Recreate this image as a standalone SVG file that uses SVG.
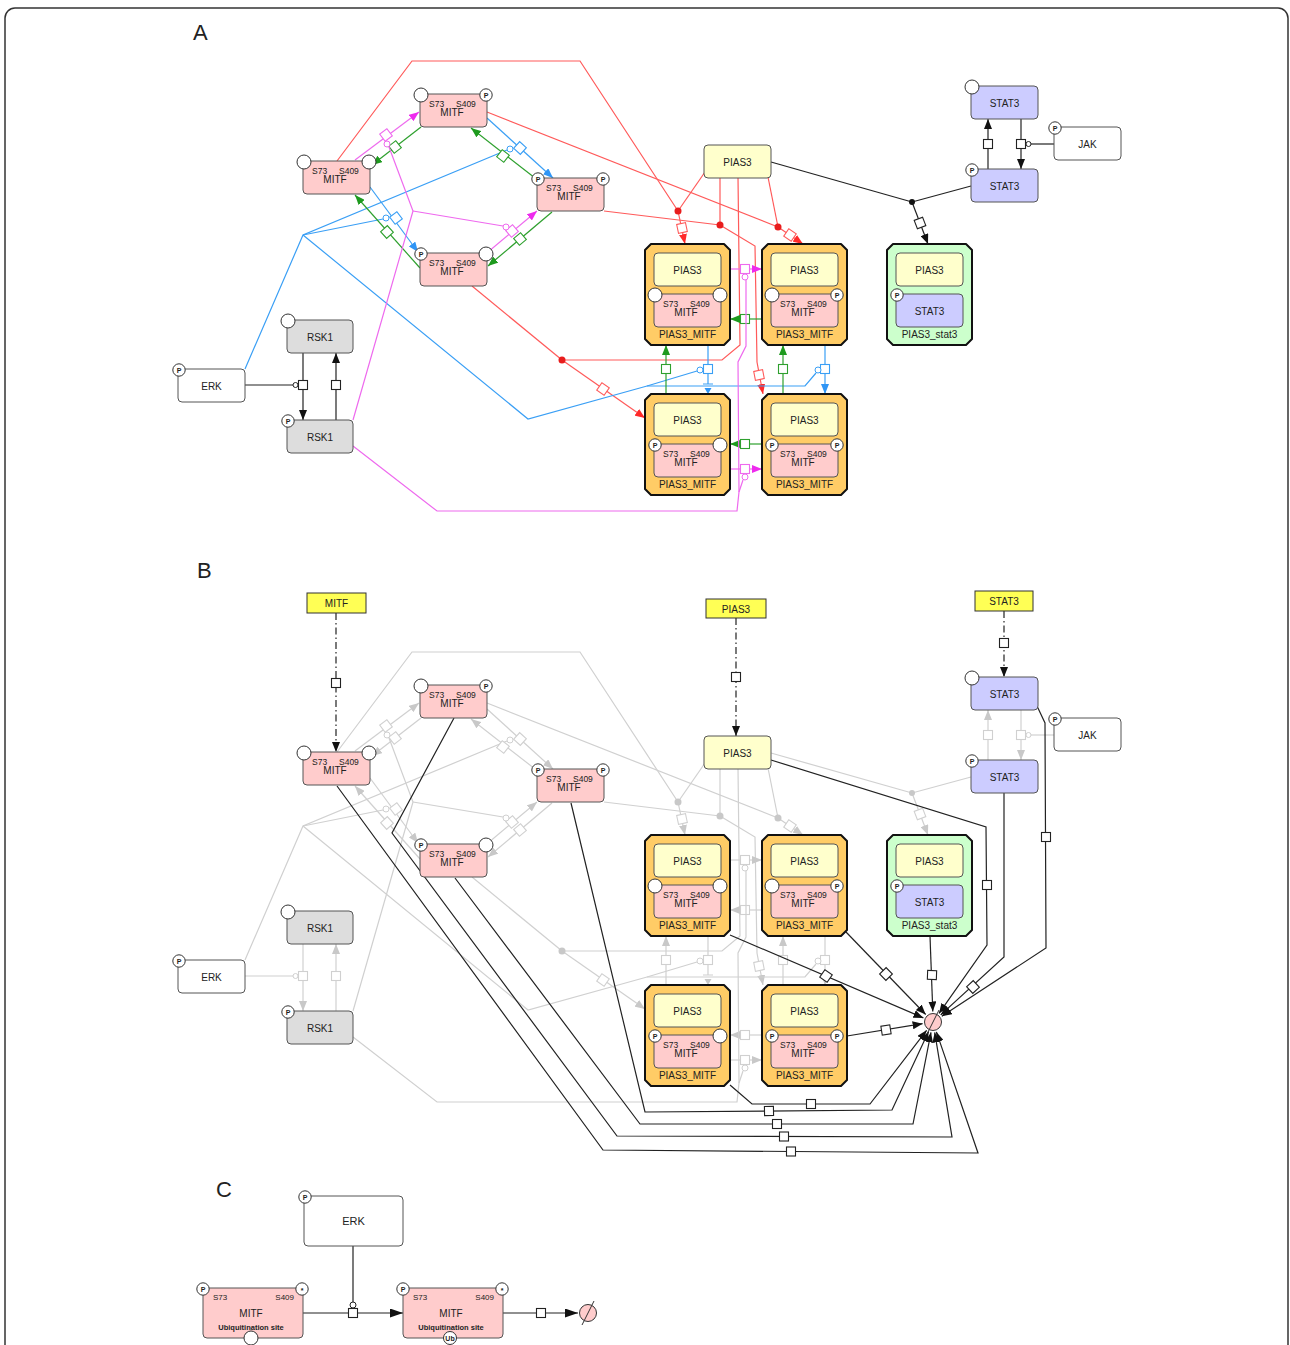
<svg xmlns="http://www.w3.org/2000/svg" xmlns:xlink="http://www.w3.org/1999/xlink" width="1290" height="1345" viewBox="0 0 1290 1345">
<style>
.t{font-family:"Liberation Sans",Arial,Helvetica,sans-serif;fill:#222}
.nm{font-size:10px;text-anchor:middle}
.st{font-size:8.5px}
.pt{font-size:7px;text-anchor:middle;font-weight:bold}
.big{font-size:22px}
.ln{fill:none;stroke-width:1.2}
.r{stroke:#ff5a5a}.b{stroke:#3a9ff5}.g{stroke:#2ea02e}.m{stroke:#ee6aee}.k{stroke:#222}.x{stroke:#d0d0d0}
.r.arr{marker-end:url(#aR)}.b.arr{marker-end:url(#aB)}.g.arr{marker-end:url(#aG)}.m.arr{marker-end:url(#aM)}.k.arr{marker-end:url(#aK)}.x.arr{marker-end:url(#aX)}
.dd{stroke-dasharray:7 3 1.5 3}
.sq{fill:#fff;stroke-width:1.1}
.cat{fill:#fff;stroke-width:1}
.dr{fill:#e81c1c}.dk{fill:#111}.dx{fill:#c8c8c8}
.mitf{fill:#ffcccc;stroke:#555}
.pias{fill:#ffffcc;stroke:#555}
.stat{fill:#ccccff;stroke:#555}
.rsk{fill:#dddddd;stroke:#555}
.plain{fill:#fff;stroke:#555}
.src{fill:#ffff55;stroke:#333}
.cxo{fill:#ffcc66;stroke:#111;stroke-width:2;stroke-linejoin:round}
.cxg{fill:#ccffcc;stroke:#111;stroke-width:2;stroke-linejoin:round}
.sv{fill:#fff;stroke:#333}
</style>
<defs>
<marker id="aR" viewBox="0 0 10 8" refX="10" refY="4" markerWidth="10" markerHeight="8" markerUnits="userSpaceOnUse" orient="auto"><path d="M0,0 L10,4 L0,8 Z" fill="#ff2a2a"/></marker>
<marker id="aB" viewBox="0 0 10 8" refX="10" refY="4" markerWidth="10" markerHeight="8" markerUnits="userSpaceOnUse" orient="auto"><path d="M0,0 L10,4 L0,8 Z" fill="#2f95f5"/></marker>
<marker id="aG" viewBox="0 0 10 8" refX="10" refY="4" markerWidth="10" markerHeight="8" markerUnits="userSpaceOnUse" orient="auto"><path d="M0,0 L10,4 L0,8 Z" fill="#1e9a1e"/></marker>
<marker id="aM" viewBox="0 0 10 8" refX="10" refY="4" markerWidth="10" markerHeight="8" markerUnits="userSpaceOnUse" orient="auto"><path d="M0,0 L10,4 L0,8 Z" fill="#ee2aee"/></marker>
<marker id="aK" viewBox="0 0 10 8" refX="10" refY="4" markerWidth="10" markerHeight="8" markerUnits="userSpaceOnUse" orient="auto"><path d="M0,0 L10,4 L0,8 Z" fill="#111"/></marker>
<marker id="aX" viewBox="0 0 10 8" refX="10" refY="4" markerWidth="10" markerHeight="8" markerUnits="userSpaceOnUse" orient="auto"><path d="M0,0 L10,4 L0,8 Z" fill="#c8c8c8"/></marker>
<marker id="aK2" viewBox="0 0 13 9" refX="13" refY="4.5" markerWidth="13" markerHeight="9" markerUnits="userSpaceOnUse" orient="auto"><path d="M0,0 L13,4.5 L0,9 Z" fill="#111"/></marker>
<rect id="q" class="sq" x="-4.5" y="-4.5" width="9" height="9"/>
<g id="mitf"><rect class="mitf" width="67" height="33" rx="4"/><text class="t st" x="9" y="12.5">S73</text><text class="t st" x="36" y="12.5">S409</text><text class="t nm" x="32" y="21.5">MITF</text></g>
<g id="pias"><rect class="pias" width="67" height="33" rx="4"/><text class="t nm" x="33.5" y="20.5">PIAS3</text></g>
<g id="stat"><rect class="stat" width="67" height="33" rx="4"/><text class="t nm" x="33.5" y="20.5">STAT3</text></g>
<g id="svP"><circle class="sv" r="6.2"/><text class="t pt" y="2.5">P</text></g>
<circle id="svE" class="sv" r="7"/>
<path id="cx" d="M6,0 H79 L85,6 V95 L79,101 H6 L0,95 V6 Z"/>
<g id="sink"><circle r="8.5" fill="#ffcccc" stroke="#333"/><line x1="-6" y1="12" x2="6" y2="-12" stroke="#333" stroke-width="1"/></g>
</defs>

<rect x="5" y="8" width="1283" height="1370" rx="10" fill="#fff" stroke="#333" stroke-width="1.5"/>

<g id="panel-labels">
<text class="t big" x="193" y="40">A</text>
<text class="t big" x="197" y="578">B</text>
<text class="t big" x="216" y="1197">C</text>
</g>

<!-- Panel A reactions, coloured by kind -->
<g id="edges-a">
<!-- complex formation with PIAS3 -->
<path class="ln r" d="M337,161 L412,61 L580,61 L678,211"/>
<path class="ln r" d="M705,172 L678,211"/>
<path class="ln r arr" d="M678,211 L685,244"/>
<use href="#q" class="r" transform="translate(682,228) rotate(-12)"/>
<circle class="dr" cx="678" cy="211" r="3.5"/>
<path class="ln r" d="M487,112 L778,227"/>
<path class="ln r" d="M768,177 L778,227"/>
<path class="ln r arr" d="M778,227 L803,244"/>
<use href="#q" class="r" transform="translate(790,235) rotate(34)"/>
<circle class="dr" cx="778" cy="227" r="3.5"/>
<path class="ln r" d="M604,211 L720,225"/>
<path class="ln r" d="M720,177 L720,225"/>
<path class="ln r arr" d="M720,225 L755,246 L757,362 L763,394"/>
<use href="#q" class="r" transform="translate(759,375) rotate(-11)"/>
<circle class="dr" cx="720" cy="225" r="3.5"/>
<path class="ln r" d="M472,286 L562,360"/>
<path class="ln r" d="M738,177 L740,345 L722,360 L562,360"/>
<path class="ln r arr" d="M562,360 L645,418"/>
<use href="#q" class="r" transform="translate(603,389) rotate(35)"/>
<circle class="dr" cx="562" cy="360" r="3.5"/>
<!-- ERK driven steps -->
<path class="ln b" d="M245,369 L303,235 L507,150"/>
<path class="ln b" d="M303,235 L383,219"/>
<path class="ln b" d="M303,235 L528,419 L647,386 L805,386 L816,373"/>
<path class="ln b" d="M647,386 L697,371"/>
<path class="ln b arr" d="M487,118 L553,178"/>
<use href="#q" class="b" transform="translate(520,148) rotate(42)"/>
<path class="ln b arr" d="M370,187 L418,252"/>
<use href="#q" class="b" transform="translate(396,218) rotate(53)"/>
<path class="ln b" d="M708,345 V384 M703,384 H713"/>
<polygon points="704.5,388 711.5,388 708,394" fill="#2f95f5"/>
<use href="#q" class="b" transform="translate(708,369)"/>
<path class="ln b arr" d="M825,345 V394"/>
<use href="#q" class="b" transform="translate(825,369)"/>
<circle class="cat b" cx="510" cy="149" r="3"/>
<circle class="cat b" cx="386" cy="218" r="3"/>
<circle class="cat b" cx="818" cy="370" r="3"/>
<circle class="cat b" cx="700" cy="370" r="3"/>
<!-- reverse steps -->
<path class="ln g arr" d="M421,127 L372,165"/>
<use href="#q" class="g" transform="translate(395,147) rotate(-38)"/>
<path class="ln g arr" d="M420,268 L355,195"/>
<use href="#q" class="g" transform="translate(387,232) rotate(48)"/>
<path class="ln g arr" d="M535,178 L471,128"/>
<use href="#q" class="g" transform="translate(503,156) rotate(38)"/>
<path class="ln g arr" d="M552,212 L488,266"/>
<use href="#q" class="g" transform="translate(520,239) rotate(-40)"/>
<path class="ln g arr" d="M762,319 L730,319"/>
<use href="#q" class="g" transform="translate(745,319)"/>
<path class="ln g arr" d="M762,444 L730,444"/>
<use href="#q" class="g" transform="translate(745,444)"/>
<path class="ln g arr" d="M666,394 L666,345"/>
<use href="#q" class="g" transform="translate(666,369)"/>
<path class="ln g arr" d="M783,394 L783,345"/>
<use href="#q" class="g" transform="translate(783,369)"/>
<!-- RSK1 driven steps -->
<path class="ln m arr" d="M355,160 L419,112"/>
<use href="#q" class="m" transform="translate(386,135) rotate(-37)"/>
<path class="ln m arr" d="M488,252 L537,211"/>
<use href="#q" class="m" transform="translate(512,231) rotate(-40)"/>
<path class="ln m arr" d="M730,269 L762,269"/>
<use href="#q" class="m" transform="translate(745,269)"/>
<path class="ln m arr" d="M730,469 L762,469"/>
<use href="#q" class="m" transform="translate(745,469)"/>
<path class="ln m" d="M353,420 L413,211 L389,147"/>
<path class="ln m" d="M413,211 L503,226"/>
<path class="ln m" d="M353,446 L437,511 L737,511 L739,492 L743,480"/>
<path class="ln m" d="M739,492 L738,362 L746,346 L746,280"/>
<circle class="cat m" cx="387" cy="144" r="3"/>
<circle class="cat m" cx="506" cy="227" r="3"/>
<circle class="cat m" cx="745" cy="277" r="3"/>
<circle class="cat m" cx="745" cy="477" r="3"/>
<!-- kinase cycles and STAT3 complex -->
<path class="ln k" d="M771,162 L912,202"/>
<path class="ln k" d="M971,186 L912,202"/>
<path class="ln k arr" d="M912,202 L928,244"/>
<use href="#q" class="k" transform="translate(920,223) rotate(69)"/>
<circle class="dk" cx="912" cy="202" r="3"/>
<path class="ln k arr" d="M303,353 V420"/>
<use href="#q" class="k" transform="translate(303,385)"/>
<path class="ln k" d="M245,385 H293"/>
<circle class="cat k" cx="295.5" cy="385" r="2.5"/>
<path class="ln k arr" d="M336,420 V353"/>
<use href="#q" class="k" transform="translate(336,385)"/>
<path class="ln k arr" d="M1021,119 V169"/>
<use href="#q" class="k" transform="translate(1021,144)"/>
<path class="ln k" d="M1054,144 H1031"/>
<circle class="cat k" cx="1028.5" cy="144" r="2.5"/>
<path class="ln k arr" d="M988,169 V119"/>
<use href="#q" class="k" transform="translate(988,144)"/>
</g>

<!-- Panel B: the same network, drawn as faded context -->
<g id="edges-b-context">
<path class="ln x" d="M337,752 L412,652 L580,652 L678,802"/>
<path class="ln x" d="M705,763 L678,802"/>
<path class="ln x arr" d="M678,802 L685,835"/>
<use href="#q" class="x" transform="translate(682,819) rotate(-12)"/>
<circle class="dx" cx="678" cy="802" r="3.5"/>
<path class="ln x" d="M487,703 L778,818"/>
<path class="ln x" d="M768,768 L778,818"/>
<path class="ln x arr" d="M778,818 L803,835"/>
<use href="#q" class="x" transform="translate(790,826) rotate(34)"/>
<circle class="dx" cx="778" cy="818" r="3.5"/>
<path class="ln x" d="M604,802 L720,816"/>
<path class="ln x" d="M720,768 L720,816"/>
<path class="ln x arr" d="M720,816 L755,837 L757,953 L763,985"/>
<use href="#q" class="x" transform="translate(759,966) rotate(-11)"/>
<circle class="dx" cx="720" cy="816" r="3.5"/>
<path class="ln x" d="M472,877 L562,951"/>
<path class="ln x" d="M738,768 L740,936 L722,951 L562,951"/>
<path class="ln x arr" d="M562,951 L645,1009"/>
<use href="#q" class="x" transform="translate(603,980) rotate(35)"/>
<circle class="dx" cx="562" cy="951" r="3.5"/>
<path class="ln x" d="M245,960 L303,826 L507,741"/>
<path class="ln x" d="M303,826 L383,810"/>
<path class="ln x" d="M303,826 L528,1010 L647,977 L805,977 L816,964"/>
<path class="ln x" d="M647,977 L697,962"/>
<path class="ln x arr" d="M487,709 L553,769"/>
<use href="#q" class="x" transform="translate(520,739) rotate(42)"/>
<path class="ln x arr" d="M370,778 L418,843"/>
<use href="#q" class="x" transform="translate(396,809) rotate(53)"/>
<path class="ln x" d="M708,936 V975 M703,975 H713"/>
<polygon points="704.5,979 711.5,979 708,985" fill="#c8c8c8"/>
<use href="#q" class="x" transform="translate(708,960)"/>
<path class="ln x arr" d="M825,936 V985"/>
<use href="#q" class="x" transform="translate(825,960)"/>
<circle class="cat x" cx="510" cy="740" r="3"/>
<circle class="cat x" cx="386" cy="809" r="3"/>
<circle class="cat x" cx="818" cy="961" r="3"/>
<circle class="cat x" cx="700" cy="961" r="3"/>
<path class="ln x arr" d="M421,718 L372,756"/>
<use href="#q" class="x" transform="translate(395,738) rotate(-38)"/>
<path class="ln x arr" d="M420,859 L355,786"/>
<use href="#q" class="x" transform="translate(387,823) rotate(48)"/>
<path class="ln x arr" d="M535,769 L471,719"/>
<use href="#q" class="x" transform="translate(503,747) rotate(38)"/>
<path class="ln x arr" d="M552,803 L488,857"/>
<use href="#q" class="x" transform="translate(520,830) rotate(-40)"/>
<path class="ln x arr" d="M762,910 L730,910"/>
<use href="#q" class="x" transform="translate(745,910)"/>
<path class="ln x arr" d="M762,1035 L730,1035"/>
<use href="#q" class="x" transform="translate(745,1035)"/>
<path class="ln x arr" d="M666,985 L666,936"/>
<use href="#q" class="x" transform="translate(666,960)"/>
<path class="ln x arr" d="M783,985 L783,936"/>
<use href="#q" class="x" transform="translate(783,960)"/>
<path class="ln x arr" d="M355,751 L419,703"/>
<use href="#q" class="x" transform="translate(386,726) rotate(-37)"/>
<path class="ln x arr" d="M488,843 L537,802"/>
<use href="#q" class="x" transform="translate(512,822) rotate(-40)"/>
<path class="ln x arr" d="M730,860 L762,860"/>
<use href="#q" class="x" transform="translate(745,860)"/>
<path class="ln x arr" d="M730,1060 L762,1060"/>
<use href="#q" class="x" transform="translate(745,1060)"/>
<path class="ln x" d="M353,1011 L413,802 L389,738"/>
<path class="ln x" d="M413,802 L503,817"/>
<path class="ln x" d="M353,1037 L437,1102 L737,1102 L739,1083 L743,1071"/>
<path class="ln x" d="M739,1083 L738,953 L746,937 L746,871"/>
<circle class="cat x" cx="387" cy="735" r="3"/>
<circle class="cat x" cx="506" cy="818" r="3"/>
<circle class="cat x" cx="745" cy="868" r="3"/>
<circle class="cat x" cx="745" cy="1068" r="3"/>
<path class="ln x" d="M771,753 L912,793"/>
<path class="ln x" d="M971,777 L912,793"/>
<path class="ln x arr" d="M912,793 L928,835"/>
<use href="#q" class="x" transform="translate(920,814) rotate(69)"/>
<circle class="dx" cx="912" cy="793" r="3"/>
<path class="ln x arr" d="M303,944 V1011"/>
<use href="#q" class="x" transform="translate(303,976)"/>
<path class="ln x" d="M245,976 H293"/>
<circle class="cat x" cx="295.5" cy="976" r="2.5"/>
<path class="ln x arr" d="M336,1011 V944"/>
<use href="#q" class="x" transform="translate(336,976)"/>
<path class="ln x arr" d="M1021,710 V760"/>
<use href="#q" class="x" transform="translate(1021,735)"/>
<path class="ln x" d="M1054,735 H1031"/>
<circle class="cat x" cx="1028.5" cy="735" r="2.5"/>
<path class="ln x arr" d="M988,760 V710"/>
<use href="#q" class="x" transform="translate(988,735)"/>
</g>

<!-- Panel B: synthesis and degradation -->
<g id="edges-b">
<path class="ln k dd arr" d="M336,613 V752"/>
<use href="#q" class="k" transform="translate(336,683)"/>
<path class="ln k dd arr" d="M736,618 V736"/>
<use href="#q" class="k" transform="translate(736,677)"/>
<path class="ln k dd arr" d="M1004,611 V677"/>
<use href="#q" class="k" transform="translate(1004,643)"/>
<path class="ln k arr" d="M771,760 L986,827 L987,945 L939,1013.4"/>
<use href="#q" class="k" transform="translate(987,885)"/>
<path class="ln k arr" d="M1004,793 L1004,957 L940.7,1014.9"/>
<use href="#q" class="k" transform="translate(973,987) rotate(137)"/>
<path class="ln k arr" d="M1037,706 L1045,723 L1046,948 L941.8,1016.2"/>
<use href="#q" class="k" transform="translate(1046,837)"/>
<path class="ln k arr" d="M930,936 L932.8,1011.5"/>
<use href="#q" class="k" transform="translate(932,975) rotate(2)"/>
<path class="ln k arr" d="M846,932 L925.7,1014.5"/>
<use href="#q" class="k" transform="translate(886,974) rotate(46)"/>
<path class="ln k arr" d="M730,935 L923.4,1017.9"/>
<use href="#q" class="k" transform="translate(826,976) rotate(35)"/>
<path class="ln k arr" d="M847,1036 L922.6,1023.7"/>
<use href="#q" class="k" transform="translate(886,1030) rotate(-9)"/>
<path class="ln k arr" d="M730,1085 L752,1104 L870,1104 L926.6,1030.3"/>
<use href="#q" class="k" transform="translate(811,1104)"/>
<path class="ln k arr" d="M571,803 L645,1112 L892,1110 L928.6,1031.5"/>
<use href="#q" class="k" transform="translate(769,1111) rotate(-1)"/>
<path class="ln k arr" d="M455,878 L640,1124 L913,1124 L931,1032.3"/>
<use href="#q" class="k" transform="translate(777,1124)"/>
<path class="ln k arr" d="M454,718 L392,833 L617,1136 L952,1137 L934.7,1032.4"/>
<use href="#q" class="k" transform="translate(784,1136.5)"/>
<path class="ln k arr" d="M337,786 L603,1150 L978,1153 L936.4,1031.9"/>
<use href="#q" class="k" transform="translate(791,1151.5)"/>
</g>

<!-- Panel C reactions -->
<g id="edges-c">
<path class="ln k" d="M303,1313 L403,1313" marker-end="url(#aK2)"/>
<use href="#q" class="k" transform="translate(353,1313)"/>
<path class="ln k" d="M353,1246 V1302"/>
<circle class="cat k" cx="353" cy="1305" r="3"/>
<path class="ln k" d="M503,1313 L578,1313" marker-end="url(#aK2)"/>
<use href="#q" class="k" transform="translate(541,1313)"/>
</g>

<!-- Panel A species -->
<g id="a-mitf-top" transform="translate(420,94)"><use href="#mitf"/><use href="#svE" x="1" y="1"/><use href="#svP" x="66" y="1"/></g>
<g id="a-mitf-left" transform="translate(303,161)"><use href="#mitf"/><use href="#svE" x="1" y="1"/><use href="#svE" x="66" y="1"/></g>
<g id="a-mitf-right" transform="translate(537,178)"><use href="#mitf"/><use href="#svP" x="1" y="1"/><use href="#svP" x="66" y="1"/></g>
<g id="a-mitf-bottom" transform="translate(420,253)"><use href="#mitf"/><use href="#svP" x="1" y="1"/><use href="#svE" x="66" y="1"/></g>
<g id="a-pias3" transform="translate(704,145)"><use href="#pias"/></g>
<g id="a-stat3" transform="translate(971,86)"><use href="#stat"/><use href="#svE" x="1" y="1"/></g>
<g id="a-stat3-p" transform="translate(971,169)"><use href="#stat"/><use href="#svP" x="1" y="1"/></g>
<g id="a-jak" transform="translate(1054,127)"><rect class="plain" width="67" height="33" rx="4"/><text class="t nm" x="33.5" y="20.5">JAK</text><use href="#svP" x="1" y="1"/></g>
<g id="a-rsk1" transform="translate(287,320)"><rect class="rsk" width="66" height="33" rx="4"/><text class="t nm" x="33" y="20.5">RSK1</text><use href="#svE" x="1" y="1"/></g>
<g id="a-rsk1-p" transform="translate(287,420)"><rect class="rsk" width="66" height="33" rx="4"/><text class="t nm" x="33" y="20.5">RSK1</text><use href="#svP" x="1" y="1"/></g>
<g id="a-erk" transform="translate(178,369)"><rect class="plain" width="67" height="33" rx="4"/><text class="t nm" x="33.5" y="20.5">ERK</text><use href="#svP" x="1" y="1"/></g>
<g id="a-pias3-mitf-1" transform="translate(645,244)"><use href="#cx" class="cxo"/><use href="#pias" x="9" y="9"/><use href="#mitf" x="9" y="50"/><use href="#svE" x="10" y="51"/><use href="#svE" x="75" y="51"/><text class="t nm" x="42.5" y="94">PIAS3_MITF</text></g>
<g id="a-pias3-mitf-2" transform="translate(762,244)"><use href="#cx" class="cxo"/><use href="#pias" x="9" y="9"/><use href="#mitf" x="9" y="50"/><use href="#svE" x="10" y="51"/><use href="#svP" x="75" y="51"/><text class="t nm" x="42.5" y="94">PIAS3_MITF</text></g>
<g id="a-pias3-mitf-3" transform="translate(645,394)"><use href="#cx" class="cxo"/><use href="#pias" x="9" y="9"/><use href="#mitf" x="9" y="50"/><use href="#svP" x="10" y="51"/><use href="#svE" x="75" y="51"/><text class="t nm" x="42.5" y="94">PIAS3_MITF</text></g>
<g id="a-pias3-mitf-4" transform="translate(762,394)"><use href="#cx" class="cxo"/><use href="#pias" x="9" y="9"/><use href="#mitf" x="9" y="50"/><use href="#svP" x="10" y="51"/><use href="#svP" x="75" y="51"/><text class="t nm" x="42.5" y="94">PIAS3_MITF</text></g>
<g id="a-pias3-stat3" transform="translate(887,244)"><use href="#cx" class="cxg"/><use href="#pias" x="9" y="9"/><use href="#stat" x="9" y="50"/><use href="#svP" x="10" y="51"/><text class="t nm" x="42.5" y="94">PIAS3_stat3</text></g>

<!-- Panel B species -->
<g id="b-src-mitf"><rect class="src" x="307" y="593" width="59" height="20"/><text class="t nm" x="336.5" y="607">MITF</text></g>
<g id="b-src-pias3"><rect class="src" x="706" y="599" width="60" height="19"/><text class="t nm" x="736" y="612.5">PIAS3</text></g>
<g id="b-src-stat3"><rect class="src" x="975" y="591" width="58" height="20"/><text class="t nm" x="1004" y="605">STAT3</text></g>
<g id="b-mitf-top" transform="translate(420,685)"><use href="#mitf"/><use href="#svE" x="1" y="1"/><use href="#svP" x="66" y="1"/></g>
<g id="b-mitf-left" transform="translate(303,752)"><use href="#mitf"/><use href="#svE" x="1" y="1"/><use href="#svE" x="66" y="1"/></g>
<g id="b-mitf-right" transform="translate(537,769)"><use href="#mitf"/><use href="#svP" x="1" y="1"/><use href="#svP" x="66" y="1"/></g>
<g id="b-mitf-bottom" transform="translate(420,844)"><use href="#mitf"/><use href="#svP" x="1" y="1"/><use href="#svE" x="66" y="1"/></g>
<g id="b-pias3" transform="translate(704,736)"><use href="#pias"/></g>
<g id="b-stat3" transform="translate(971,677)"><use href="#stat"/><use href="#svE" x="1" y="1"/></g>
<g id="b-stat3-p" transform="translate(971,760)"><use href="#stat"/><use href="#svP" x="1" y="1"/></g>
<g id="b-jak" transform="translate(1054,718)"><rect class="plain" width="67" height="33" rx="4"/><text class="t nm" x="33.5" y="20.5">JAK</text><use href="#svP" x="1" y="1"/></g>
<g id="b-rsk1" transform="translate(287,911)"><rect class="rsk" width="66" height="33" rx="4"/><text class="t nm" x="33" y="20.5">RSK1</text><use href="#svE" x="1" y="1"/></g>
<g id="b-rsk1-p" transform="translate(287,1011)"><rect class="rsk" width="66" height="33" rx="4"/><text class="t nm" x="33" y="20.5">RSK1</text><use href="#svP" x="1" y="1"/></g>
<g id="b-erk" transform="translate(178,960)"><rect class="plain" width="67" height="33" rx="4"/><text class="t nm" x="33.5" y="20.5">ERK</text><use href="#svP" x="1" y="1"/></g>
<g id="b-pias3-mitf-1" transform="translate(645,835)"><use href="#cx" class="cxo"/><use href="#pias" x="9" y="9"/><use href="#mitf" x="9" y="50"/><use href="#svE" x="10" y="51"/><use href="#svE" x="75" y="51"/><text class="t nm" x="42.5" y="94">PIAS3_MITF</text></g>
<g id="b-pias3-mitf-2" transform="translate(762,835)"><use href="#cx" class="cxo"/><use href="#pias" x="9" y="9"/><use href="#mitf" x="9" y="50"/><use href="#svE" x="10" y="51"/><use href="#svP" x="75" y="51"/><text class="t nm" x="42.5" y="94">PIAS3_MITF</text></g>
<g id="b-pias3-mitf-3" transform="translate(645,985)"><use href="#cx" class="cxo"/><use href="#pias" x="9" y="9"/><use href="#mitf" x="9" y="50"/><use href="#svP" x="10" y="51"/><use href="#svE" x="75" y="51"/><text class="t nm" x="42.5" y="94">PIAS3_MITF</text></g>
<g id="b-pias3-mitf-4" transform="translate(762,985)"><use href="#cx" class="cxo"/><use href="#pias" x="9" y="9"/><use href="#mitf" x="9" y="50"/><use href="#svP" x="10" y="51"/><use href="#svP" x="75" y="51"/><text class="t nm" x="42.5" y="94">PIAS3_MITF</text></g>
<g id="b-pias3-stat3" transform="translate(887,835)"><use href="#cx" class="cxg"/><use href="#pias" x="9" y="9"/><use href="#stat" x="9" y="50"/><use href="#svP" x="10" y="51"/><text class="t nm" x="42.5" y="94">PIAS3_stat3</text></g>
<g id="b-degradation"><use href="#sink" x="933" y="1022"/></g>

<!-- Panel C species -->
<g id="c-erk" transform="translate(304,1196)"><rect class="plain" width="99" height="50" rx="4"/><text class="t" x="49.5" y="29" font-size="11" text-anchor="middle">ERK</text><use href="#svP" x="1" y="1"/></g>
<g id="c-mitf" transform="translate(203,1288)"><rect class="mitf" width="100" height="50" rx="4"/><text class="t" x="10" y="12" font-size="8">S73</text><text class="t" x="91" y="12" font-size="8" text-anchor="end">S409</text><text class="t nm" x="48" y="28.5">MITF</text><text class="t" x="48" y="42" font-size="7.5" font-weight="bold" text-anchor="middle">Ubiquitination site</text><use href="#svP" x="0" y="1"/><g transform="translate(99,1)"><circle class="sv" r="6.2"/><text class="t pt" y="3.5">*</text></g><use href="#svE" x="48" y="50"/></g>
<g id="c-mitf-ub" transform="translate(403,1288)"><rect class="mitf" width="100" height="50" rx="4"/><text class="t" x="10" y="12" font-size="8">S73</text><text class="t" x="91" y="12" font-size="8" text-anchor="end">S409</text><text class="t nm" x="48" y="28.5">MITF</text><text class="t" x="48" y="42" font-size="7.5" font-weight="bold" text-anchor="middle">Ubiquitination site</text><use href="#svP" x="0" y="1"/><g transform="translate(99,1)"><circle class="sv" r="6.2"/><text class="t pt" y="3.5">*</text></g><g transform="translate(47,50)"><circle class="sv" r="6.5"/><text class="t pt" y="2.5">Ub</text></g></g>
<g id="c-degradation"><use href="#sink" x="588" y="1313"/></g>
</svg>
